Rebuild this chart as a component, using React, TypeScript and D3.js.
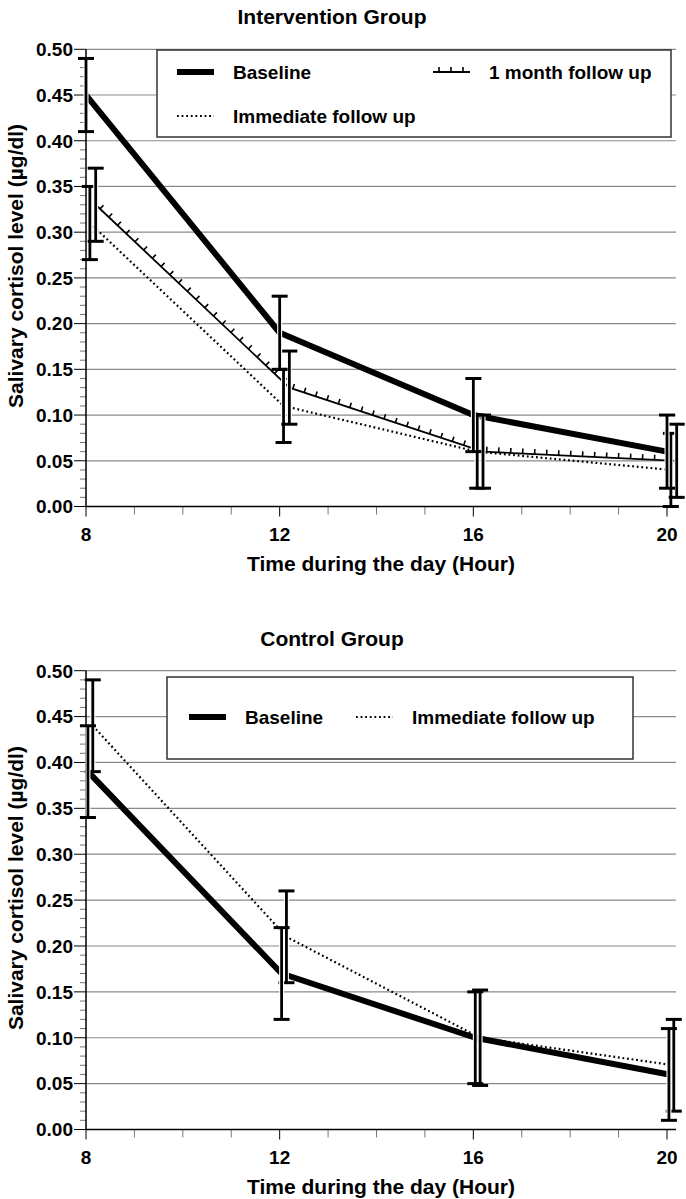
import React from 'react';
import * as d3 from 'd3';

// ---------- data ----------
const hours = [8, 12, 16, 20];
const xMajorTicks = [8, 12, 16, 20];
const yMajorTicks = [0, 0.05, 0.1, 0.15, 0.2, 0.25, 0.3, 0.35, 0.4, 0.45, 0.5];

// Intervention group
const intBaseline = [0.45, 0.19, 0.1, 0.06];
const intBaselineErr = [0.04, 0.04, 0.04, 0.04];
const intImmediate = [0.31, 0.11, 0.06, 0.04];
const intImmediateErr = [0.04, 0.04, 0.04, 0.04];
const intMonth = [0.33, 0.13, 0.06, 0.05];
const intMonthErr = [0.04, 0.04, 0.04, 0.04];
const intOffsets = [0, 0.08, 0.2]; // baseline, immediate, 1 month (hours)

// Control group
const ctlBaseline = [0.39, 0.17, 0.1, 0.06];
const ctlBaselineErr = [0.05, 0.05, 0.05, 0.05];
const ctlImmediate = [0.44, 0.21, 0.1, 0.07];
const ctlImmediateErr = [0.05, 0.05, 0.052, 0.05];
const ctlOffsets = [0.04, 0.14];

const FONT = '"Liberation Sans", Arial, Helvetica, sans-serif';

type Series = { kind: 'baseline' | 'immediate' | 'month'; values: number[]; err: number[]; offset: number };

function monthTicks(pts: [number, number][], step = 12, len = 5) {
  const out: string[] = [];
  let carry = step / 2;
  for (let i = 0; i < pts.length - 1; i++) {
    const [x0, y0] = pts[i];
    const [x1, y1] = pts[i + 1];
    const dx = x1 - x0, dy = y1 - y0;
    const L = Math.hypot(dx, dy);
    const ux = dx / L, uy = dy / L;
    const nx = uy, ny = -ux; // upward normal
    let t = carry;
    while (t < L) {
      const px = x0 + ux * t, py = y0 + uy * t;
      out.push(`M${px},${py}L${px + nx * len},${py + ny * len}`);
      t += step;
    }
    carry = t - L;
  }
  return out.join('');
}

function LineMark({ kind, pts }: { kind: Series['kind']; pts: [number, number][] }) {
  const d = d3.line()(pts) || '';
  if (kind === 'baseline') return <path d={d} fill="none" stroke="#000" strokeWidth={6} strokeLinejoin="round" />;
  if (kind === 'immediate')
    return <path d={d} fill="none" stroke="#000" strokeWidth={2.2} strokeDasharray="1.8,2.8" />;
  return (
    <g>
      <path d={d} fill="none" stroke="#000" strokeWidth={1.8} />
      <path d={monthTicks(pts)} fill="none" stroke="#000" strokeWidth={1.6} />
    </g>
  );
}

function Panel({
  title,
  top,
  bottom,
  series,
  legend,
}: {
  title: string;
  top: number;
  bottom: number;
  series: Series[];
  legend: { box: [number, number, number, number]; items: { kind: Series['kind']; label: string; x: number; y: number }[] };
}) {
  const x = d3.scaleLinear().domain([8, 20]).range([86, 667]);
  const y = d3.scaleLinear().domain([0, 0.5]).range([bottom, top]);
  const xRight = 676;
  const minorY = d3.range(0, 51).map((i) => i / 100);
  const minorX = d3.range(8, 21);
  const [bx, by, bw, bh] = legend.box;

  return (
    <g fontFamily={FONT} fontWeight="bold">
      <text x={332} y={top - 25} textAnchor="middle" fontSize={21}>
        {title}
      </text>
      {/* gridlines */}
      {yMajorTicks.map((t) => (
        <line key={t} x1={x(8)} x2={xRight} y1={y(t)} y2={y(t)} stroke="#8a8a8a" strokeWidth={1.2} />
      ))}
      {/* y ticks */}
      {minorY.map((t, i) => (
        <line key={'m' + t} x1={x(8) - (i % 5 === 0 ? 12 : 6)} x2={x(8)} y1={y(t)} y2={y(t)} stroke={i % 5 === 0 ? '#000' : '#777'} strokeWidth={1} />
      ))}
      {yMajorTicks.map((t) => (
        <text key={'l' + t} x={73} y={y(t)} dy="0.36em" textAnchor="end" fontSize={19}>
          {t.toFixed(2)}
        </text>
      ))}
      {/* x ticks */}
      {minorX.map((h) => (
        <line key={'x' + h} x1={x(h)} x2={x(h)} y1={y(0)} y2={y(0) + (xMajorTicks.includes(h) ? 10 : 8)} stroke={xMajorTicks.includes(h) ? '#000' : '#777'} strokeWidth={1} />
      ))}
      {xMajorTicks.map((h) => (
        <text key={'xl' + h} x={x(h)} y={y(0) + 34} textAnchor="middle" fontSize={19}>
          {h}
        </text>
      ))}
      <text x={381} y={y(0) + 64} textAnchor="middle" fontSize={21}>
        Time during the day (Hour)
      </text>
      <text transform={`translate(23,${(top + bottom) / 2 - 12}) rotate(-90)`} textAnchor="middle" fontSize={21}>
        Salivary cortisol level (µg/dl)
      </text>
      {/* axes */}
      <line x1={x(8)} x2={x(8)} y1={y(0)} y2={y(0.5)} stroke="#000" strokeWidth={1.5} />
      <line x1={x(8)} x2={xRight} y1={y(0)} y2={y(0)} stroke="#000" strokeWidth={1.5} />

      {/* legend */}
      <rect x={bx} y={by} width={bw} height={bh} fill="#fff" stroke="#333" strokeWidth={1.5} />
      {legend.items.map((it) => (
        <g key={it.label}>
          <LineMark kind={it.kind} pts={[[it.x, it.y], [it.x + 37, it.y]]} />
          <text x={it.x + 56} y={it.y} dy="0.36em" fontSize={19}>
            {it.label}
          </text>
        </g>
      ))}

      {/* lines */}
      {series.map((s) => (
        <LineMark key={s.kind} kind={s.kind} pts={hours.map((h, i) => [x(h + s.offset), y(s.values[i])] as [number, number])} />
      ))}
      {/* error bars */}
      {series.map((s) =>
        hours.map((h, i) => {
          const xx = x(h + s.offset);
          const y1 = y(s.values[i] + s.err[i]);
          const y0 = y(s.values[i] - s.err[i]);
          return (
            <g key={s.kind + h}>
              <line x1={xx} x2={xx} y1={y1} y2={y0} stroke="#fff" strokeWidth={5} />
              <line x1={xx} x2={xx} y1={y1} y2={y0} stroke="#000" strokeWidth={2.8} />
              <line x1={xx - 8} x2={xx + 8} y1={y1} y2={y1} stroke="#000" strokeWidth={3} />
              <line x1={xx - 8} x2={xx + 8} y1={y0} y2={y0} stroke="#000" strokeWidth={3} />
            </g>
          );
        })
      )}
    </g>
  );
}

export default function App() {
  const intSeries: Series[] = [
    { kind: 'immediate', values: intImmediate, err: intImmediateErr, offset: intOffsets[1] },
    { kind: 'month', values: intMonth, err: intMonthErr, offset: intOffsets[2] },
    { kind: 'baseline', values: intBaseline, err: intBaselineErr, offset: intOffsets[0] },
  ];
  const ctlSeries: Series[] = [
    { kind: 'immediate', values: ctlImmediate, err: ctlImmediateErr, offset: ctlOffsets[1] },
    { kind: 'baseline', values: ctlBaseline, err: ctlBaselineErr, offset: ctlOffsets[0] },
  ];
  return (
    <svg width={686} height={1199} style={{ position: 'absolute', left: 0, top: 0, background: '#fff' }}>
      <Panel
        title="Intervention Group"
        top={49.3}
        bottom={506.5}
        series={intSeries}
        legend={{
          box: [157, 50, 514, 87],
          items: [
            { kind: 'baseline', label: 'Baseline', x: 177, y: 72 },
            { kind: 'month', label: '1 month follow up', x: 433, y: 72 },
            { kind: 'immediate', label: 'Immediate follow up', x: 177, y: 116 },
          ],
        }}
      />
      <Panel
        title="Control Group"
        top={670.7}
        bottom={1129.5}
        series={ctlSeries}
        legend={{
          box: [167, 677, 466, 82],
          items: [
            { kind: 'baseline', label: 'Baseline', x: 189, y: 717 },
            { kind: 'immediate', label: 'Immediate follow up', x: 356, y: 717 },
          ],
        }}
      />
    </svg>
  );
}
